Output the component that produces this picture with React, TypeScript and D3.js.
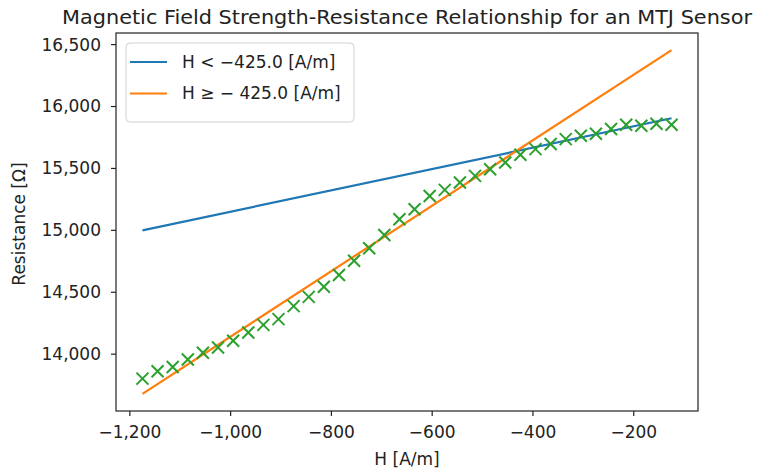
import React from "react";
import * as d3 from "d3";

// measured points (H in A/m, resistance in ohm)
const fieldH = [
  -1175, -1145, -1115, -1085, -1055, -1025, -995, -965, -935, -905, -875, -845,
  -815, -785, -755, -725, -695, -665, -635, -605, -575, -545, -515, -485, -455,
  -425, -395, -365, -335, -305, -275, -245, -215, -185, -155, -125,
];
const resistance = [
  13803, 13862, 13897, 13957, 14011, 14054, 14108, 14175, 14237, 14283, 14388,
  14463, 14545, 14639, 14755, 14855, 14963, 15090, 15171, 15278, 15327, 15386,
  15440, 15494, 15548, 15610, 15656, 15697, 15737, 15764, 15780, 15818, 15853,
  15845, 15861, 15853,
];

// linear fits, end points
const fitLowH = [-1175, -125];
const fitLowR = [15000, 15905];
const fitHighH = [-1175, -125];
const fitHighR = [13680, 16455];

const xTicks = [-1200, -1000, -800, -600, -400, -200];
const yTicks = [14000, 14500, 15000, 15500, 16000, 16500];
const legendLabels = ["H < \u2212425.0 [A/m]", "H \u2265 \u2212 425.0 [A/m]"];
const colors = ["#1f77b4", "#ff7f0e", "#2ca02c"];

const W = 758;
const H = 471;
const plot = { left: 116, right: 698, top: 33, bottom: 411 };
const font = "DejaVu Sans, sans-serif";
const fs = 17;

const pad = ([a, b]: number[]) => {
  const m = (b - a) * 0.05;
  return [a - m, b + m];
};

const fmt = (v: number) => d3.format(",")(v).replace("-", "\u2212");

const App = () => {
  const allX = [...fieldH, ...fitLowH, ...fitHighH];
  const allY = [...resistance, ...fitLowR, ...fitHighR];

  const x = d3
    .scaleLinear()
    .domain(pad(d3.extent(allX) as number[]))
    .range([plot.left, plot.right]);
  const y = d3
    .scaleLinear()
    .domain(pad(d3.extent(allY) as number[]))
    .range([plot.bottom, plot.top]);

  const line = d3
    .line<[number, number]>()
    .x((d) => x(d[0]))
    .y((d) => y(d[1]));

  const lowPath = line(fitLowH.map((h, i) => [h, fitLowR[i]]));
  const highPath = line(fitHighH.map((h, i) => [h, fitHighR[i]]));

  const cx = (plot.left + plot.right) / 2;
  const cy = (plot.top + plot.bottom) / 2;
  const m = 6; // half size of x marker

  return (
    <svg
      width={W}
      height={H}
      style={{ position: "absolute", left: 0, top: 0, background: "#fff" }}
      fontFamily={font}
    >
      <rect width={W} height={H} fill="#fff" />

      {/* title */}
      <text
        x={cx}
        y={24}
        textAnchor="middle"
        fontSize={20}
        fill="#222"
        textLength={690}
        lengthAdjust="spacingAndGlyphs"
      >
        Magnetic Field Strength-Resistance Relationship for an MTJ Sensor
      </text>

      {/* fits */}
      <path d={lowPath!} fill="none" stroke={colors[0]} strokeWidth={2.2} />
      <path d={highPath!} fill="none" stroke={colors[1]} strokeWidth={2.2} />

      {/* measured points */}
      {fieldH.map((h, i) => {
        const px = x(h);
        const py = y(resistance[i]);
        return (
          <path
            key={i}
            d={`M${px - m},${py - m}L${px + m},${py + m}M${px - m},${py + m}L${px + m},${py - m}`}
            stroke={colors[2]}
            strokeWidth={2}
            fill="none"
          />
        );
      })}

      {/* frame */}
      <rect
        x={plot.left}
        y={plot.top}
        width={plot.right - plot.left}
        height={plot.bottom - plot.top}
        fill="none"
        stroke="#222"
        strokeWidth={1.2}
      />

      {/* x axis */}
      {xTicks.map((t) => (
        <g key={t} transform={`translate(${x(t)},${plot.bottom})`}>
          <line y2={5} stroke="#222" strokeWidth={1.2} />
          <text y={27} textAnchor="middle" fontSize={fs} fill="#222">
            {fmt(t)}
          </text>
        </g>
      ))}
      <text x={cx} y={465} textAnchor="middle" fontSize={fs} fill="#222">
        H [A/m]
      </text>

      {/* y axis */}
      {yTicks.map((t) => (
        <g key={t} transform={`translate(${plot.left},${y(t)})`}>
          <line x2={-5} stroke="#222" strokeWidth={1.2} />
          <text x={-15} dy="0.35em" textAnchor="end" fontSize={fs} fill="#222">
            {fmt(t)}
          </text>
        </g>
      ))}
      <text
        transform={`translate(25,${cy + 2}) rotate(-90)`}
        textAnchor="middle"
        fontSize={fs}
        fill="#222"
      >
        Resistance [Ω]
      </text>

      {/* legend */}
      <g>
        <rect
          x={126}
          y={43}
          width={228}
          height={79}
          rx={4}
          fill="#fff"
          fillOpacity={0.8}
          stroke="#d0d0d0"
        />
        {legendLabels.map((lab, i) => (
          <g key={lab} transform={`translate(130,${62 + i * 31.5})`}>
            <line x2={37} stroke={colors[i]} strokeWidth={2.2} />
            <text x={52} dy="0.35em" fontSize={fs} fill="#222">
              {lab}
            </text>
          </g>
        ))}
      </g>
    </svg>
  );
};

export default App;
